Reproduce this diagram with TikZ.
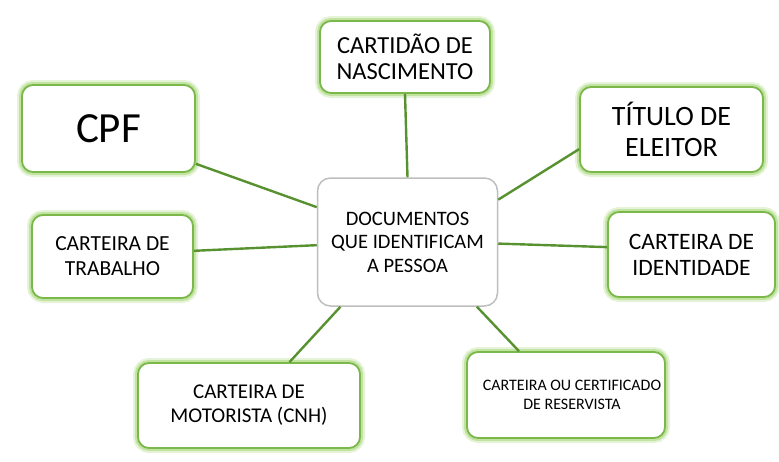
\documentclass[tikz,border=0pt]{standalone}
\usepackage{fontspec}
\setmainfont{Carlito}
\definecolor{linegreen}{RGB}{88,146,48}
\definecolor{glowgreen}{RGB}{170,216,125}
\definecolor{bordergreen}{RGB}{122,184,74}
\definecolor{centergray}{RGB}{190,190,190}
\tikzset{
  glowbox/.style={rectangle, rounded corners=11pt, fill=white, draw=bordergreen, line width=1.8pt,
    align=center, inner sep=0pt,
    preaction={draw=glowgreen, line width=10pt, opacity=0.3},
    preaction={draw=glowgreen, line width=6pt, opacity=0.6}},
  centerbox/.style={rectangle, rounded corners=13pt, fill=white, draw=centergray, line width=1.5pt,
    align=center, inner sep=0pt},
  conn/.style={draw=linegreen, line width=2.4pt}
}
\begin{document}
\begin{tikzpicture}[x=1pt,y=-1pt]
\useasboundingbox (0,0) rectangle (779,461);
\node[centerbox, minimum width=180pt, minimum height=128pt, font=\fontsize{20.5}{23.5}\selectfont] (c) at (407.5,242) {DOCUMENTOS\\QUE IDENTIFICAM\\A PESSOA};
\node[glowbox, minimum width=173pt, minimum height=87pt, font=\fontsize{43}{46}\selectfont] (cpf) at (108.5,128.5) {CPF};
\node[glowbox, minimum width=170pt, minimum height=72pt, font=\fontsize{24.5}{25.5}\selectfont] (cn) at (405,57) {CARTIDÃO DE\\NASCIMENTO};
\node[glowbox, minimum width=183pt, minimum height=85pt, font=\fontsize{28}{31}\selectfont] (te) at (671.5,129.5) {TÍTULO DE\\ELEITOR};
\node[glowbox, minimum width=161pt, minimum height=83pt, font=\fontsize{21.5}{25}\selectfont] (ct) at (112.5,256.5) {CARTEIRA DE\\TRABALHO};
\node[glowbox, minimum width=167pt, minimum height=85pt, font=\fontsize{23.5}{26}\selectfont] (ci) at (691.5,254.5) {CARTEIRA DE\\IDENTIDADE};
\node[glowbox, minimum width=222pt, minimum height=85pt, font=\fontsize{21}{24}\selectfont] (cm) at (249,405.5) {CARTEIRA DE\\MOTORISTA (CNH)};
\node[glowbox, minimum width=198pt, minimum height=86pt, font=\fontsize{16}{18.5}\selectfont] (cr) at (566,395) {\hspace*{12pt}CARTEIRA OU CERTIFICADO\\\hspace*{12pt}DE RESERVISTA};
\draw[conn] (cn.south) -- (c.north);
\draw[conn] (cpf.338) -- (c.159);
\draw[conn] (te.192.6) -- (c.25);
\draw[conn] (ct.4) -- (c.182.6);
\draw[conn] (ci.175) -- (c.359.4);
\draw[conn] (cm.47.5) -- (c.224);
\draw[conn] (cr.137) -- (c.317);
\end{tikzpicture}
\end{document}
